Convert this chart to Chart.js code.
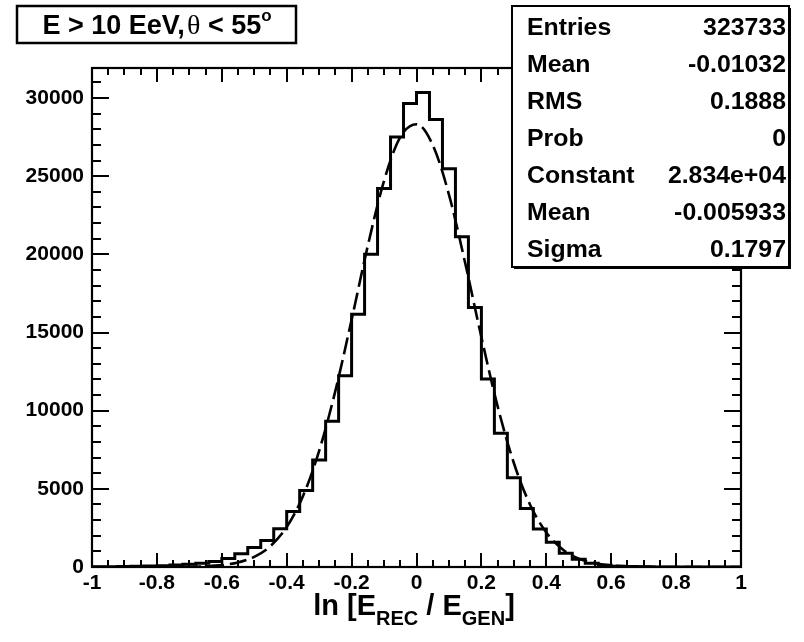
<!DOCTYPE html>
<html><head><meta charset="utf-8">
<script src="https://cdn.jsdelivr.net/npm/chart.js@4.4.0/dist/chart.umd.min.js"></script>
<style>html,body{margin:0;padding:0;background:#fff}</style>
</head><body>
<canvas id="c" width="804" height="642"></canvas>
<script>
// ---------- data ----------
const xMin = -1, xMax = 1, binWidth = 0.04;
const binCounts = [
  15, 20, 30, 45, 60, 85, 120, 170, 240, 350,
  550, 850, 1250, 1700, 2450, 3550, 4900, 6850, 9330, 12230,
  16160, 20010, 24210, 27510, 29650, 30350, 28620, 25470, 21120, 16600,
  12020, 8550, 5710, 3750, 2430, 1580, 875, 490, 235, 110,
  50, 25, 12, 6, 3, 2, 1, 1, 0, 0
];
// dashed fit curve
const fitX = [-1,-0.95,-0.9,-0.85,-0.8,-0.75,-0.7,-0.65,-0.6,-0.55,-0.5,-0.45,-0.4,-0.35,-0.3,-0.25,-0.2,-0.15,-0.1,-0.05,
  0,0.05,0.1,0.15,0.2,0.25,0.3,0.35,0.4,0.45,0.5,0.55,0.6,0.65,0.7,0.75,0.8,0.85,0.9,0.95,1];
const fitY = [0,0,0.1,0.5,1.6,5,16,46,120,290,647,1338,2559,4532,7428,11268,15817,20551,24711,27501,
  28325,27000,23820,19448,14697,10279,6653,3986,2210,1134,539,237,96,36,13,4,1,0.3,0.1,0,0];
const xTickLabels = ['-1','-0.8','-0.6','-0.4','-0.2','0','0.2','0.4','0.6','0.8','1'];
const yTickValues = [0,5000,10000,15000,20000,25000,30000];
const yMax = 31920;
const statsLabels = ['Entries','Mean','RMS','Prob','Constant','Mean','Sigma'];
const statsValues = ['323733','-0.01032','0.1888','0','2.834e+04','-0.005933','0.1797'];
const titleText = ['E > 10 EeV,', '\u03B8', ' < 55', 'o'];

// ---------- build ----------
const histPts = binCounts.map((v,i)=>({x: xMin + i*binWidth, y: v}));
histPts.push({x: xMax, y: binCounts[binCounts.length-1]});
const fitPts = fitX.map((x,i)=>({x, y: fitY[i]}));

const SANS = '"Liberation Sans", Arial, Helvetica, sans-serif';

function drawSegs(ctx, segs, cx, baseline){
  let total = 0;
  segs.forEach(s=>{ ctx.font = s.font; s.w = ctx.measureText(s.t).width; total += s.w; });
  let x = cx - total/2;
  ctx.textAlign = 'left'; ctx.textBaseline = 'alphabetic';
  segs.forEach(s=>{ ctx.font = s.font; ctx.fillText(s.t, x, baseline + (s.dy||0)); x += s.w; });
}

const framePlugin = {
  id: 'framePlugin',
  afterDatasetsDraw(chart){
    const {ctx, chartArea:a, scales} = chart;
    const sx = scales.x, sy = scales.y;
    ctx.save();
    ctx.strokeStyle = '#000';
    ctx.lineWidth = 2.2;
    ctx.strokeRect(a.left, a.top, a.right - a.left, a.bottom - a.top);
    ctx.lineWidth = 2;
    ctx.beginPath();
    for (let k = 0; k <= 40; k++){
      const v = -1 + k*0.05;
      const major = (k % 4 === 0);
      const px = Math.round(sx.getPixelForValue(v));
      const L = major ? 14 : 7;
      ctx.moveTo(px, a.bottom); ctx.lineTo(px, a.bottom - L);
      ctx.moveTo(px, a.top); ctx.lineTo(px, a.top + L);
    }
    for (let v = 0; v <= yMax; v += 1000){
      const major = (v % 5000 === 0);
      const py = Math.round(sy.getPixelForValue(v));
      const L = major ? 17 : 9;
      ctx.moveTo(a.left, py); ctx.lineTo(a.left + L, py);
      ctx.moveTo(a.right, py); ctx.lineTo(a.right - L, py);
    }
    ctx.stroke();
    ctx.restore();
  },
  afterDraw(chart){
    const ctx = chart.ctx;
    ctx.save();
    ctx.fillStyle = '#000'; ctx.strokeStyle = '#000';
    // title box
    ctx.fillStyle = '#fff';
    ctx.fillRect(17, 6, 279, 37);
    ctx.lineWidth = 2.5;
    ctx.strokeRect(17, 6, 279, 37);
    ctx.fillStyle = '#000';
    drawSegs(ctx, [
      {t: titleText[0], font: 'bold 27px ' + SANS},
      {t: ' ', font: '8px ' + SANS},
      {t: titleText[1], font: '28px "Liberation Serif", "DejaVu Serif", serif'},
      {t: titleText[2], font: 'bold 27px ' + SANS},
      {t: titleText[3], font: 'bold 17px ' + SANS, dy: -13}
    ], 157, 34);
    // stats box
    const bx = 512, by = 6, bw = 277, bh = 261;
    ctx.fillStyle = '#000';
    ctx.fillRect(bx + 2, by + 2, bw, bh);
    ctx.fillStyle = '#fff';
    ctx.fillRect(bx, by, bw, bh);
    ctx.lineWidth = 2;
    ctx.strokeRect(bx, by, bw, bh);
    ctx.fillStyle = '#000';
    ctx.textBaseline = 'middle';
    const fs = 23, stretch = 1.08;
    ctx.font = 'bold ' + fs + 'px ' + SANS;
    statsLabels.forEach((lab, i)=>{
      const yy = 29 + i*37;
      ctx.save();
      ctx.translate(527, yy); ctx.scale(stretch, 1);
      ctx.textAlign = 'left'; ctx.fillText(lab, 0, 0);
      ctx.restore();
      ctx.save();
      ctx.translate(786, yy); ctx.scale(stretch, 1);
      ctx.textAlign = 'right'; ctx.fillText(statsValues[i], 0, 0);
      ctx.restore();
    });
    // x axis title
    const big = 'bold 29px ' + SANS, small = 'bold 20px ' + SANS;
    drawSegs(ctx, [
      {t: 'ln [E', font: big},
      {t: 'REC', font: small, dy: 10},
      {t: ' / E', font: big},
      {t: 'GEN', font: small, dy: 10},
      {t: ']', font: big}
    ], 414, 615);
    ctx.restore();
  }
};

new Chart(document.getElementById('c'), {
  type: 'line',
  data: {
    datasets: [
      {
        label: 'hist', data: histPts, stepped: 'before',
        borderColor: '#000', borderWidth: 3, pointRadius: 0, fill: false
      },
      {
        label: 'fit', data: fitPts, borderColor: '#000', borderWidth: 2.6,
        borderDash: [17, 6], pointRadius: 0, fill: false,
        cubicInterpolationMode: 'monotone'
      }
    ]
  },
  options: {
    responsive: false, animation: false, devicePixelRatio: 1,
    layout: { padding: { left: 0, right: 63, top: 68, bottom: 0 } },
    plugins: { legend: { display: false }, tooltip: { enabled: false }, title: { display: false } },
    scales: {
      x: {
        type: 'linear', min: xMin, max: xMax,
        grid: { display: false, drawTicks: false, tickLength: 0 }, border: { display: false },
        afterBuildTicks(s){ s.ticks = xTickLabels.map(t=>({value: parseFloat(t)})); },
        ticks: {
          autoSkip: false, maxRotation: 0, padding: 4, color: '#000',
          font: { family: SANS, size: 21, weight: 'bold' },
          callback: (v)=> xTickLabels.find(t=>Math.abs(parseFloat(t)-v)<1e-6) ?? ''
        },
        afterFit(s){ s.height = 75; }
      },
      y: {
        type: 'linear', min: 0, max: yMax,
        grid: { display: false, drawTicks: false, tickLength: 0 }, border: { display: false },
        afterBuildTicks(s){ s.ticks = yTickValues.map(v=>({value: v})); },
        ticks: {
          padding: 8, color: '#000',
          font: { family: SANS, size: 21, weight: 'bold' },
          callback: (v)=> String(v)
        },
        afterFit(s){ s.width = 92; }
      }
    }
  },
  plugins: [framePlugin]
});
</script>
</body></html>
